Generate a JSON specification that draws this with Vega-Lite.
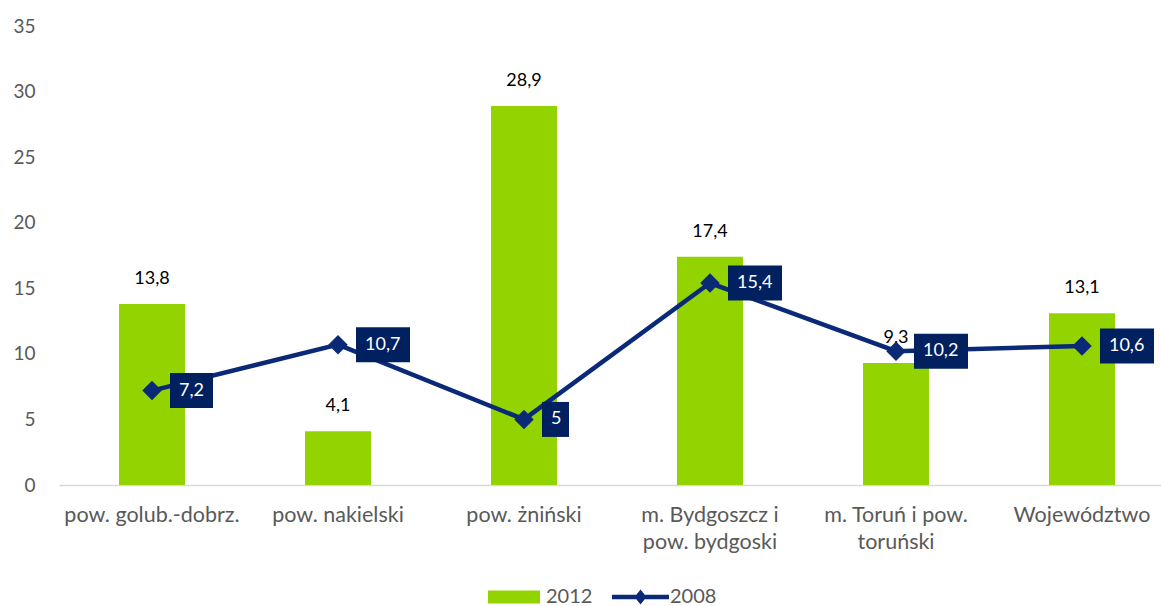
{
  "$schema": "https://vega.github.io/schema/vega-lite/v6.json",
  "width": 1102,
  "height": 459,
  "autosize": {"type": "none"},
  "padding": {"left": 59, "top": 26, "right": 0, "bottom": 121},
  "background": "white",
  "config": {
    "view": {"stroke": null},
    "font": "Lato",
    "locale": {"number": {"decimal": ",", "thousands": " ", "grouping": [3], "currency": ["", " zł"]}}
  },
  "data": {
    "values": [
      {"region": "pow. golub.-dobrz.", "v2012": 13.8, "v2008": 7.2},
      {"region": "pow. nakielski", "v2012": 4.1, "v2008": 10.7},
      {"region": "pow. żniński", "v2012": 28.9, "v2008": 5},
      {"region": "m. Bydgoszcz i pow. bydgoski", "v2012": 17.4, "v2008": 15.4},
      {"region": "m. Toruń i pow. toruński", "v2012": 9.3, "v2008": 10.2},
      {"region": "Województwo", "v2012": 13.1, "v2008": 10.6}
    ]
  },
  "encoding": {
    "x": {
      "field": "region",
      "type": "nominal",
      "sort": null,
      "scale": {"paddingInner": 0.6452, "paddingOuter": 0.285, "align": 0.566},
      "axis": {
        "title": null,
        "labelAngle": 0,
        "labelFontSize": 21.5,
        "labelColor": "#595959",
        "labelPadding": 19,
        "labelLineHeight": 27,
        "labelLimit": 0,
        "ticks": false,
        "domainColor": "#D9D9D9",
        "domainWidth": 1.3,
        "labelExpr": "datum.label == 'm. Bydgoszcz i pow. bydgoski' ? ['m. Bydgoszcz i', 'pow. bydgoski'] : datum.label == 'm. Toruń i pow. toruński' ? ['m. Toruń i pow.', 'toruński'] : datum.label"
      }
    }
  },
  "layer": [
    {
      "mark": {"type": "bar"},
      "encoding": {
        "y": {
          "field": "v2012",
          "type": "quantitative",
          "scale": {"domain": [0, 35], "nice": false},
          "axis": {
            "title": null,
            "values": [0, 5, 10, 15, 20, 25, 30, 35],
            "grid": false,
            "domain": false,
            "ticks": false,
            "labelFontSize": 19,
            "labelColor": "#595959",
            "labelPadding": 24
          }
        },
        "color": {
          "datum": "2012",
          "type": "nominal",
          "scale": {"domain": ["2012", "2008"], "range": ["#93D400", "#0A2A78"]},
          "legend": {
            "title": null,
            "orient": "none",
            "direction": "horizontal",
            "legendX": 429,
            "legendY": 561,
            "padding": 0,
            "symbolSize": 400,
            "labelOffset": 38,
            "labelFontSize": 20,
            "labelColor": "#595959",
            "columnPadding": 19,
            "encoding": {
              "symbols": {
                "shape": {"value": {"expr": "datum.value === '2012' ? 'M-1,-0.65H4.2V0.65H-1Z' : 'M-1,-0.22H4.7V0.22H-1Z M1.85,-0.75L2.45,0L1.85,0.75L1.25,0Z'"}},
                "fill": {"value": {"expr": "datum.value === '2012' ? '#93D400' : '#0A2A78'"}},
                "strokeWidth": {"value": 0},
                "opacity": {"value": 1},
                "fillOpacity": {"value": 1}
              }
            }
          }
        }
      }
    },
    {
      "mark": {"type": "text", "fontSize": 18, "color": "#000000", "baseline": "middle", "dy": -25},
      "encoding": {
        "y": {"field": "v2012", "type": "quantitative"},
        "text": {"field": "v2012", "type": "quantitative", "format": ".1~f"}
      }
    },
    {
      "mark": {"type": "line", "strokeWidth": 4.5, "point": {"filled": true, "shape": "diamond", "size": 380, "opacity": 1}},
      "encoding": {
        "y": {"field": "v2008", "type": "quantitative"},
        "color": {"datum": "2008", "type": "nominal"}
      }
    },
    {
      "mark": {"type": "point", "filled": true, "size": 400, "opacity": 1, "color": "#002060"},
      "encoding": {
        "y": {"field": "v2008", "type": "quantitative"},
        "shape": {
          "field": "v2008",
          "type": "nominal",
          "legend": null,
          "scale": {
            "domain": [7.2, 10.7, 5, 15.4, 10.2, 10.6],
            "range": [
              "M1.8,-1.75H6.1V1.75H1.8Z",
              "M1.8,-1.75H7.2V1.75H1.8Z",
              "M1.8,-1.75H4.5V1.75H1.8Z",
              "M1.8,-1.75H7.2V1.75H1.8Z",
              "M1.8,-1.75H7.2V1.75H1.8Z",
              "M1.8,-1.75H7.2V1.75H1.8Z"
            ]
          }
        }
      }
    },
    {
      "mark": {"type": "text", "fontSize": 18, "color": "#FFFFFF", "align": "left", "baseline": "middle", "dx": 27},
      "encoding": {
        "y": {"field": "v2008", "type": "quantitative"},
        "text": {"field": "v2008", "type": "quantitative", "format": ".1~f"}
      }
    }
  ]
}
